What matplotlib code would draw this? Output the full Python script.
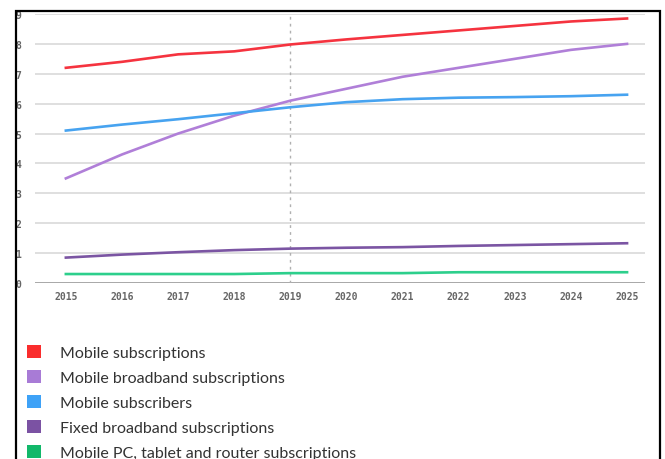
import matplotlib
matplotlib.use('Agg')
import matplotlib.pyplot as plt
from matplotlib.patches import Patch, Rectangle

years = [2015, 2016, 2017, 2018, 2019, 2020, 2021, 2022, 2023, 2024, 2025]

mobile_subs = [7.2, 7.4, 7.65, 7.75, 7.98, 8.15, 8.3, 8.45, 8.6, 8.75, 8.85]
mobile_bb = [3.5, 4.3, 5.0, 5.6, 6.1, 6.5, 6.9, 7.2, 7.5, 7.8, 8.0]
mobile_subscribers = [5.1, 5.3, 5.48, 5.68, 5.88, 6.05, 6.15, 6.2, 6.22, 6.25, 6.3]
fixed_bb = [0.85, 0.95, 1.03, 1.1, 1.15, 1.18, 1.2, 1.24, 1.27, 1.3, 1.33]
mobile_pc = [0.3, 0.3, 0.3, 0.3, 0.33, 0.33, 0.33, 0.36, 0.36, 0.36, 0.36]

series = [
    ("Mobile subscriptions", mobile_subs, '#f5333f'),
    ("Mobile broadband subscriptions", mobile_bb, '#b07fd8'),
    ("Mobile subscribers", mobile_subscribers, '#47a3f0'),
    ("Fixed broadband subscriptions", fixed_bb, '#7b55a3'),
    ("Mobile PC, tablet and router subscriptions", mobile_pc, '#2dcf8c'),
]
legend_colors = ['#fa2d2d', '#a87bd6', '#3ea2f7', '#7b52a3', '#12b86a']

fig = plt.figure(figsize=(6.65, 4.6), dpi=100)
ax = fig.add_axes([35/665, 1 - 284/460, 610/665, 269/460])

for y in range(1, 10):
    ax.axhline(y, color='#dcdcdc', lw=1.3, zorder=0)
ax.axhline(0, color='#a0a0a0', lw=2, zorder=1)
ax.axvline(2019, color='#b0b0b0', lw=1, ls=(0, (2, 3)), zorder=1)

for name, vals, col in series:
    ax.plot(years, vals, color=col, lw=1.9, zorder=3)

ax.set_xlim(2014.45, 2025.32)
ax.set_ylim(0, 9)
ax.set_xticks(years)
ax.set_xticklabels([str(y) for y in years], family='DejaVu Sans Mono',
                   fontsize=7, color='#666666', fontweight='bold')
ax.set_yticks(range(0, 10))
ax.set_yticklabels([str(y) for y in range(0, 10)], family='DejaVu Sans Mono',
                   fontsize=7, color='#666666', fontweight='bold')
ax.tick_params(axis='x', length=0, pad=6)
ax.tick_params(axis='y', length=0, pad=10)
for s in ax.spines.values():
    s.set_visible(False)

# legend
handles = [Patch(facecolor=c, edgecolor='none') for c in legend_colors]
fig.legend(handles, [s[0] for s in series], loc='upper left',
           bbox_to_anchor=(27/665, 1 - 346/460), frameon=False,
           prop={'family': 'Lato', 'size': 11.5}, labelcolor='#333333',
           handlelength=0.85, handleheight=0.9, handletextpad=1.2,
           labelspacing=0.62, borderpad=0, borderaxespad=0)

# screenshot frame
fig.patches.append(Rectangle((16/665, -0.1), (660 - 16)/665, 1.1 - 12/460,
                             transform=fig.transFigure, fill=False,
                             edgecolor='black', lw=1.6))

fig.savefig('out.png', dpi=100)
